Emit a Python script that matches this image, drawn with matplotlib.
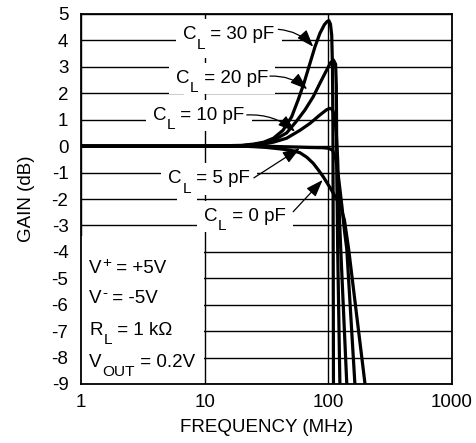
import matplotlib
matplotlib.use("Agg")
import matplotlib.pyplot as plt
from matplotlib.patches import Rectangle
from matplotlib.ticker import FixedLocator, FixedFormatter, NullLocator

plt.rcParams["font.family"] = ["Liberation Sans", "DejaVu Sans"]
plt.rcParams["axes.unicode_minus"] = False

# Frequency response (MHz, dB) for each load capacitance
freq_30pf = [1, 10, 20, 25, 30, 36, 43, 50.5, 57, 63.5, 71, 78, 85.5, 93, 98, 101, 104, 106.5, 108, 109, 109.5, 110]
gain_30pf = [0, 0, 0.03, 0.08, 0.15, 0.3, 0.6, 1.11, 1.75, 2.38, 3.13, 3.76, 4.27, 4.6, 4.72, 4.75, 4.62, 4.2, 3.0, 0.5, -4.0, -9.0]

freq_20pf = [1, 10, 20, 25, 30, 36, 46, 55.4, 64.7, 75.5, 85.5, 97, 104, 110, 114.5, 116, 116.5, 117, 118, 119, 124]
gain_20pf = [0, 0, 0.02, 0.06, 0.12, 0.22, 0.5, 0.95, 1.37, 1.87, 2.38, 2.88, 3.15, 3.26, 3.1, 2.3, 1.0, -1.0, -2.3, -3.9, -9.0]

freq_10pf = [1, 10, 20, 25, 30, 36, 46, 59, 71, 85.5, 97, 103, 108, 112, 116, 119, 122, 126, 141]
gain_10pf = [0, 0, 0.01, 0.04, 0.08, 0.15, 0.3, 0.6, 0.86, 1.18, 1.38, 1.43, 1.38, 1.15, 0.5, -0.5, -2.3, -3.9, -9.0]

freq_5pf = [1, 10, 30, 50, 70, 90, 100, 108, 115, 121, 129, 135, 141, 164]
gain_5pf = [0, 0, 0, -0.03, -0.05, -0.06, -0.08, -0.15, -0.5, -1.2, -2.3, -3.2, -3.9, -9.0]

freq_0pf = [1, 10, 20, 25, 31.7, 40, 49, 59, 67, 75.5, 83, 91, 98, 106, 115, 125, 135, 146, 170, 198]
gain_0pf = [0, 0, 0, -0.02, -0.05, -0.1, -0.15, -0.25, -0.42, -0.65, -0.9, -1.16, -1.4, -1.66, -1.95, -2.25, -2.8, -3.9, -6.45, -9.0]

curves = [
    (freq_30pf, gain_30pf),
    (freq_20pf, gain_20pf),
    (freq_10pf, gain_10pf),
    (freq_5pf, gain_5pf),
    (freq_0pf, gain_0pf),
]

# Curve labels: value text, text anchor (MHz, dB), leader start, arrow tip, leader bend
label_values = [" = 30 pF", " = 20 pF", " = 10 pF", " = 5 pF", " = 0 pF"]
label_pos = [(6.64, 4.04), (5.86, 2.40), (3.8, 0.99), (5.08, -1.41), (9.87, -2.82)]
leader_start = [(39.4, 4.42), (33.7, 2.65), (21.9, 1.18), (25.0, -1.2), (52.0, -2.48)]
arrow_tip = [(75.5, 3.76), (67.5, 2.15), (53.8, 0.55), (58.9, -0.08), (90.0, -1.28)]
leader_bend = [-0.2, -0.2, -0.2, 0.0, 0.0]

# Operating conditions: symbol, script, script kind, rest of line
cond_base = ["V", "V", "R", "V"]
cond_script = ["+", "-", "L", "OUT"]
cond_kind = ["sup", "sup", "sub", "sub"]
cond_rest = [" = +5V", " = -5V", " = 1 k\u03a9", " = 0.2V"]
cond_gain = [-4.81, -5.95, -7.15, -8.35]

x_ticks = [1, 10, 100, 1000]
x_tick_labels = ["1", "10", "100", "1000"]
y_ticks = list(range(-9, 6))

FS = 13.5
SCRIPT_FS = FS * 0.82
WHITE = dict(boxstyle="square,pad=0.38", fc="white", ec="none")

fig = plt.figure(figsize=(4.77, 4.43), dpi=100)
ax = fig.add_axes([81 / 477, 1 - 384 / 443, 371 / 477, 370 / 443])

ax.set_xscale("log")
ax.set_xlim(1, 1000)
ax.set_ylim(-9, 5)
ax.xaxis.set_major_locator(FixedLocator(x_ticks))
ax.xaxis.set_major_formatter(FixedFormatter(x_tick_labels))
ax.xaxis.set_minor_locator(NullLocator())
ax.set_yticks(y_ticks)
ax.set_yticklabels([str(v) for v in y_ticks])
ax.tick_params(axis="both", length=0, labelsize=FS)
ax.tick_params(axis="y", pad=9)
ax.tick_params(axis="x", pad=7)

ax.set_axisbelow(True)
ax.grid(True, which="major", color="black", lw=1.0)
for s in ax.spines.values():
    s.set_linewidth(1.3)
    s.set_zorder(4)

for f, g in curves:
    ax.plot(f, g, color="black", lw=2.3, solid_joinstyle="round",
            solid_capstyle="butt", zorder=3)


def scripted_text(x, y, base, script, rest, kind, box):
    """Symbol with a large sub/superscript followed by the rest of the line.

    With box=True only the white backing boxes are drawn (text invisible),
    so that a later pass can put every glyph above all the boxes."""
    if box:
        kw = dict(zorder=2.4, bbox=WHITE, color="none")
    else:
        kw = dict(zorder=2.6, color="black")
    t1 = ax.text(x, y, base, ha="left", va="baseline", fontsize=FS, **kw)
    shift = -6.0 if kind == "sub" else 5.0
    t2 = ax.annotate(script, xy=(1, 0), xycoords=t1, xytext=(0.4, shift),
                     textcoords="offset points", ha="left", va="bottom",
                     fontsize=SCRIPT_FS, **kw)
    ax.annotate(rest, xy=(1, 0), xycoords=(t2, t1), xytext=(0, 0),
                textcoords="offset points", ha="left", va="bottom",
                fontsize=FS, **kw)


for val, (x, y) in zip(label_values, label_pos):
    scripted_text(x, y, "C", "L", val, "sub", True)
    scripted_text(x, y, "C", "L", val, "sub", False)

for s0, tip, rad in zip(leader_start, arrow_tip, leader_bend):
    ax.annotate("", xy=tip, xytext=s0, zorder=5,
                arrowprops=dict(arrowstyle="-|>,head_length=0.7,head_width=0.25",
                                mutation_scale=15, lw=0.9, color="black",
                                shrinkA=0, shrinkB=0,
                                connectionstyle=f"arc3,rad={rad}"))

# Blank panel behind the operating conditions
ax.add_patch(Rectangle((1, -9), 8.8, 5.6, fc="white", ec="none", zorder=1))
for b, sc, kd, r, y in zip(cond_base, cond_script, cond_kind, cond_rest, cond_gain):
    scripted_text(1.167, y, b, sc, r, kd, False)

ax.set_xlabel("FREQUENCY (MHz)", fontsize=FS, labelpad=6)
ax.set_ylabel("GAIN (dB)", fontsize=FS, labelpad=12)

fig.savefig("out.png", dpi=100)
